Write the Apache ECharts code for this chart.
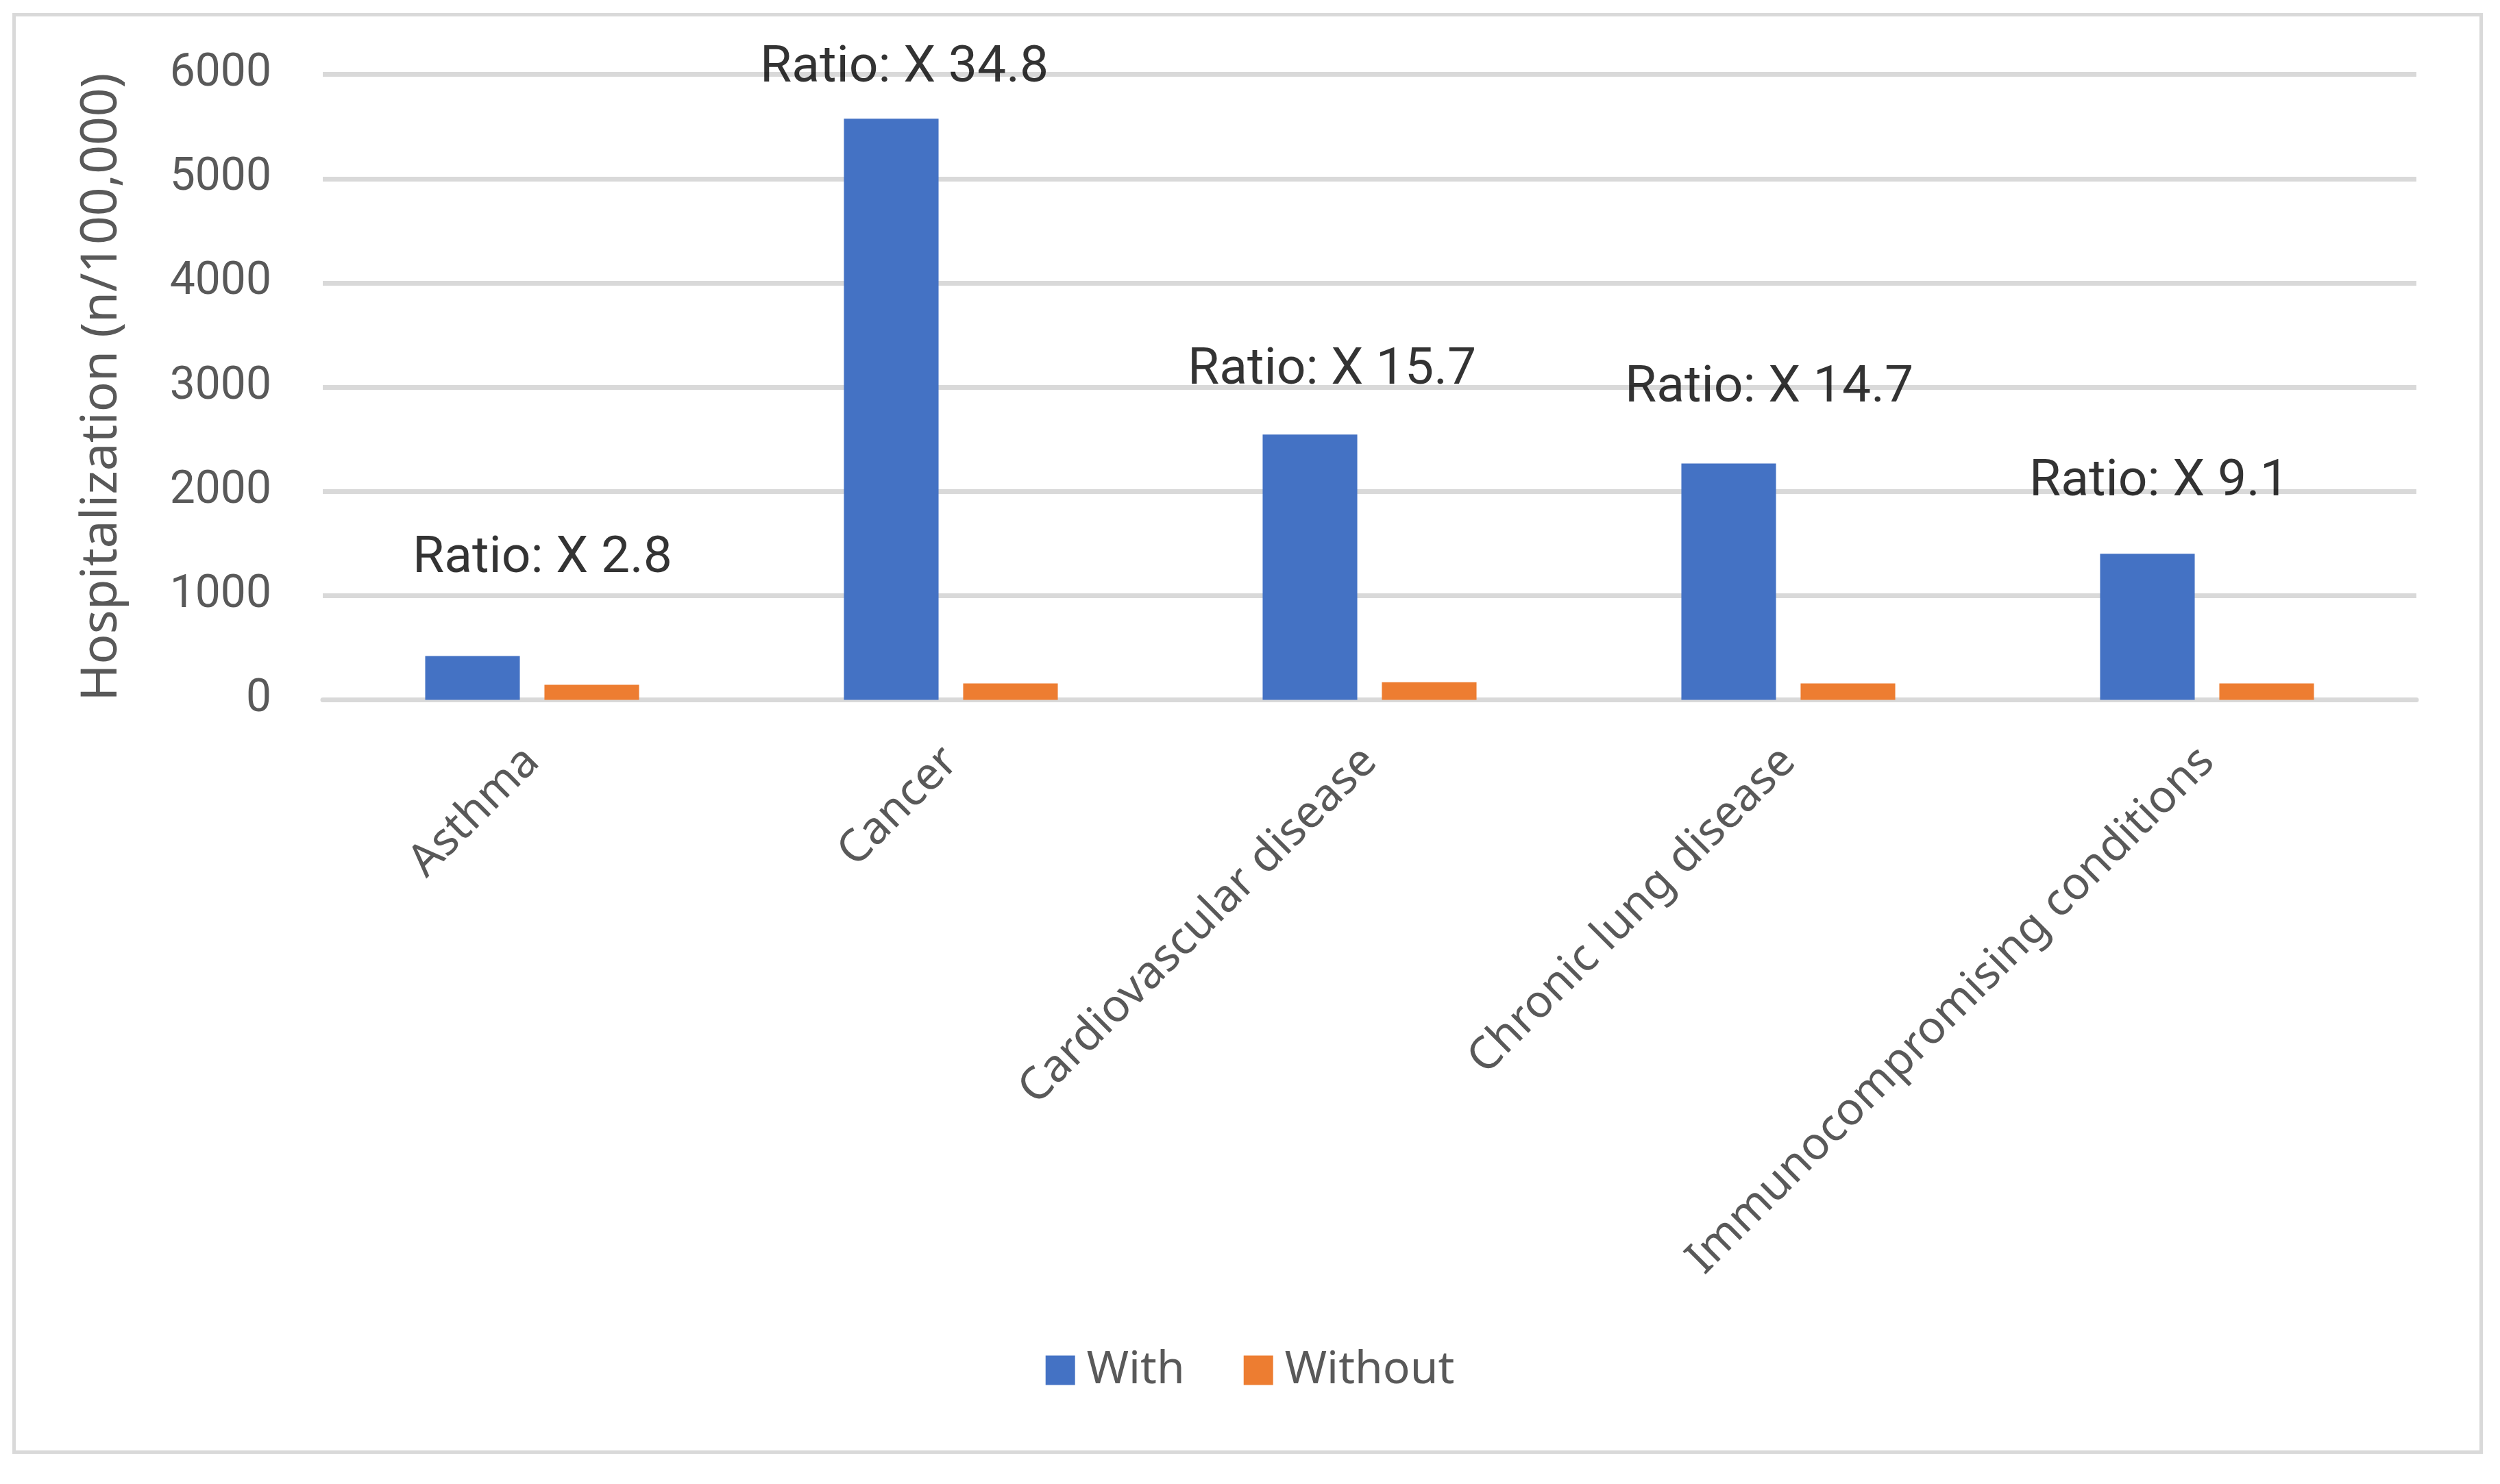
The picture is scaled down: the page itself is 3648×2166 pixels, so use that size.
<!DOCTYPE html>
<html>
<head>
<meta charset="utf-8">
<script src="https://cdn.jsdelivr.net/npm/echarts@6/dist/echarts.min.js"></script>
<style>
html,body{margin:0;padding:0;background:#fff;}
#chart{width:3648px;height:2166px;}
</style>
</head>
<body>
<div id="chart"></div>
<script>
// ---- data ----
const categories = ['Asthma', 'Cancer', 'Cardiovascular disease', 'Chronic lung disease', 'Immunocompromising conditions'];
const withValues = [420, 5575, 2545, 2268, 1402];
const withoutValues = [145, 158, 170, 158, 157];
const ratioText = ['Ratio: X 2.8', 'Ratio: X 34.8', 'Ratio: X 15.7', 'Ratio: X 14.7', 'Ratio: X 9.1'];
const ratioLabelY = [1348, 6057, 3160, 2989, 2088];
const yTicks = [0, 1000, 2000, 3000, 4000, 5000, 6000];
const seriesNames = ['With', 'Without'];

// ---- style (label nudges in px) ----
const ratioNudge = [15, -68, -55, -28, -70];

const chart = echarts.init(document.getElementById('chart'), null, {renderer: 'canvas'});
const gray = '#595959';
const gridColor = '#d9d9d9';

const option = {
  backgroundColor: '#ffffff',
  animation: false,
  graphic: [{
    type: 'rect',
    left: 18, top: 19,
    shape: {width: 3600, height: 2098},
    style: {fill: 'none', stroke: gridColor, lineWidth: 5},
    silent: true
  }],
  grid: {left: 471, right: 122, top: 108.7, bottom: 1144.5},
  legend: {
    data: seriesNames,
    left: 'center',
    top: 1962,
    itemWidth: 43,
    itemHeight: 43,
    itemGap: 86,
    icon: 'rect',
    textStyle: {fontFamily: 'Noto Sans', fontSize: 66, color: gray, padding: [0, 0, 0, 12]}
  },
  xAxis: {
    type: 'category',
    data: categories,
    axisLine: {show: true, lineStyle: {color: gridColor, width: 7}},
    axisTick: {show: false},
    axisLabel: {
      interval: 0,
      rotate: 45,
      margin: 80,
      fontFamily: 'Noto Sans',
      fontSize: 66,
      color: gray
    }
  },
  yAxis: {
    type: 'value',
    min: yTicks[0],
    max: yTicks[yTicks.length - 1],
    interval: yTicks[1] - yTicks[0],
    name: 'Hospitalization (n/100,000)',
    nameLocation: 'middle',
    nameGap: 285,
    nameTextStyle: {fontFamily: 'Noto Sans', fontSize: 73, color: gray},
    axisLine: {show: false},
    axisTick: {show: false},
    splitLine: {show: true, lineStyle: {color: gridColor, width: 7}},
    axisLabel: {margin: 75, fontFamily: 'Roboto', fontSize: 66, color: gray, formatter: v => String(v)}
  },
  series: [
    {
      name: seriesNames[0],
      type: 'bar',
      data: withValues,
      barWidth: '22.6%',
      barGap: '26%',
      itemStyle: {color: '#4472C4'}
    },
    {
      name: seriesNames[1],
      type: 'bar',
      data: withoutValues,
      barWidth: '22.6%',
      barGap: '26%',
      itemStyle: {color: '#ED7D31'}
    },
    {
      name: 'ratio',
      type: 'scatter',
      symbolSize: 0,
      silent: true,
      clip: false,
      z: 10,
      data: categories.map((c, i) => [c, ratioLabelY[i]]),
      label: {
        show: true,
        position: 'inside',
        formatter: p => ratioText[p.dataIndex],
        fontFamily: 'Roboto',
        fontSize: 75,
        color: '#000000'
      },
      labelLayout: p => ({dx: ratioNudge[p.dataIndex], hideOverlap: false})
    }
  ]
};
chart.setOption(option);
</script>
</body>
</html>
